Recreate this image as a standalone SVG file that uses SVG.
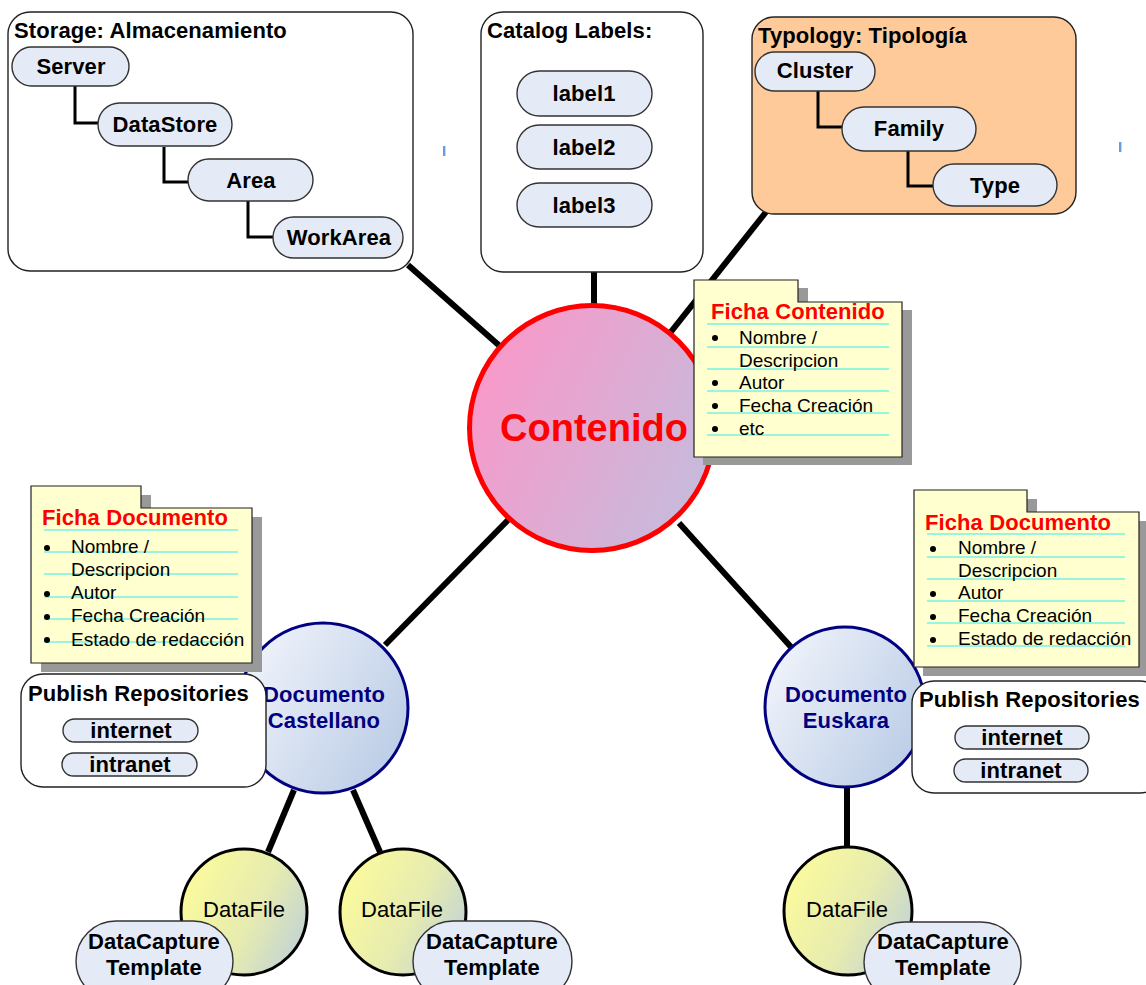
<svg xmlns="http://www.w3.org/2000/svg" width="1146" height="985" viewBox="0 0 1146 985">
<defs>
<linearGradient id="gPink" x1="0" y1="0.3" x2="1" y2="0.8">
<stop offset="0" stop-color="#FA98C9"/><stop offset="1" stop-color="#C3BDDD"/>
</linearGradient>
<linearGradient id="gBlue" x1="0" y1="0.2" x2="1" y2="0.8">
<stop offset="0" stop-color="#F1F4FB"/><stop offset="1" stop-color="#B9CBE5"/>
</linearGradient>
<linearGradient id="gYellow" x1="0" y1="0.3" x2="1" y2="0.8">
<stop offset="0" stop-color="#FBFB9C"/><stop offset="0.55" stop-color="#E6EBB0"/><stop offset="1" stop-color="#BFD2D8"/>
</linearGradient>
<style>
.box{fill:#FFFFFF;stroke:#222;stroke-width:1.4}
.pill{fill:#E5EBF6;stroke:#333;stroke-width:1.4}
.spoke{stroke:#000;stroke-width:6;fill:none}
.tree{stroke:#000;stroke-width:3;fill:none}
.t{font-family:"Liberation Sans",Arial,sans-serif;font-weight:bold;font-size:22px;letter-spacing:0.1px;fill:#000}
.c{text-anchor:middle}
.note{fill:#FFFFCF;stroke:#222;stroke-width:1.2}
.shadow{fill:#999999}
.nt{font-family:"Liberation Sans",Arial,sans-serif;font-weight:bold;font-size:22px;letter-spacing:0.1px;fill:#FF0000}
.it{font-family:"Liberation Sans",Arial,sans-serif;font-size:19px;fill:#000}
.rule{stroke:#33EEEE;stroke-width:1.2}
.doc{fill:url(#gBlue);stroke:#000080;stroke-width:3}
.dt{font-family:"Liberation Sans",Arial,sans-serif;font-weight:bold;font-size:22px;letter-spacing:0.1px;fill:#000080;text-anchor:middle}
.df{fill:url(#gYellow);stroke:#000;stroke-width:3}
.dft{font-family:"Liberation Sans",Arial,sans-serif;font-size:22px;fill:#000;text-anchor:middle}
.tick{fill:#6A9BE0}
</style>
</defs>
<rect width="1146" height="985" fill="#FFFFFF"/>

<g id="connectors">
<line class="spoke" x1="408" y1="265" x2="502" y2="348"/>
<line class="spoke" x1="594" y1="270" x2="594" y2="306"/>
<line class="spoke" x1="766" y1="212" x2="670" y2="333"/>
<line class="spoke" x1="508" y1="520" x2="385" y2="645"/>
<line class="spoke" x1="679" y1="523" x2="791" y2="647"/>
<line class="spoke" x1="294" y1="790" x2="268" y2="852"/>
<line class="spoke" x1="353" y1="790" x2="380" y2="852"/>
<line class="spoke" x1="847" y1="786" x2="847" y2="848"/>
</g>

<g id="storage">
<rect class="box" x="8" y="12" width="405" height="259" rx="22"/>
<text class="t" x="14" y="38">Storage: Almacenamiento</text>
</g>
<g id="catalog">
<rect class="box" x="481" y="12" width="222" height="260" rx="22"/>
<text class="t" x="487" y="38">Catalog Labels:</text>
</g>
<g id="typology">
<rect x="752" y="17" width="324" height="197" rx="22" fill="#FFCA99" stroke="#222" stroke-width="1.4"/>
<text class="t" x="758" y="43">Typology: Tipología</text>
</g>

<g id="tree-connectors">
<polyline class="tree" points="75,86 75,123 98,123"/>
<polyline class="tree" points="164,147 164,182 188,182"/>
<polyline class="tree" points="248,201 248,237 273,237"/>
<polyline class="tree" points="818,91 818,127 842,127"/>
<polyline class="tree" points="908,151 908,186 933,186"/>
</g>

<g id="server"><rect class="pill" x="12" y="47" width="117" height="39" rx="19.5"/><text class="t c" x="71" y="74">Server</text></g>
<g id="datastore"><rect class="pill" x="98" y="103" width="134" height="43" rx="21.5"/><text class="t c" x="165" y="132">DataStore</text></g>
<g id="area"><rect class="pill" x="188" y="159" width="125" height="42" rx="21"/><text class="t c" x="251" y="188">Area</text></g>
<g id="workarea"><rect class="pill" x="273" y="217" width="130" height="41" rx="20.5"/><text class="t c" x="339" y="245">WorkArea</text></g>

<g id="label1"><rect class="pill" x="517" y="71" width="135" height="45" rx="22.5"/><text class="t c" x="584" y="101">label1</text></g>
<g id="label2"><rect class="pill" x="517" y="125" width="135" height="44" rx="22"/><text class="t c" x="584" y="155">label2</text></g>
<g id="label3"><rect class="pill" x="517" y="183" width="135" height="44" rx="22"/><text class="t c" x="584" y="213">label3</text></g>

<g id="cluster"><rect class="pill" x="755" y="52" width="120" height="39" rx="19.5"/><text class="t c" x="815" y="78">Cluster</text></g>
<g id="family"><rect class="pill" x="842" y="107" width="134" height="44" rx="22"/><text class="t c" x="909" y="136">Family</text></g>
<g id="type"><rect class="pill" x="933" y="164" width="124" height="42" rx="21"/><text class="t c" x="995" y="193">Type</text></g>

<rect class="tick" x="443" y="146" width="2.4" height="10"/>
<rect class="tick" x="1119" y="142" width="2.4" height="10"/>

<g id="contenido">
<circle cx="592" cy="428" r="122.5" fill="url(#gPink)" stroke="#FF0000" stroke-width="5"/>
<text x="594" y="441" text-anchor="middle" font-family="'Liberation Sans',Arial,sans-serif" font-weight="bold" font-size="38" fill="#FF0000">Contenido</text>
</g>

<g id="ficha-contenido">
<path class="shadow" d="M703,288 H808 V310 H912 V465 H703 Z"/>
<path class="note" d="M694,280 H798 V302 H902 V457 H694 Z"/>
<text class="nt" x="711" y="319">Ficha Contenido</text>
<g class="rule">
<line x1="707" y1="324" x2="889" y2="324"/><line x1="707" y1="347" x2="889" y2="347"/><line x1="707" y1="369" x2="889" y2="369"/>
<line x1="707" y1="391" x2="889" y2="391"/><line x1="707" y1="413" x2="889" y2="413"/><line x1="707" y1="435" x2="889" y2="435"/>
</g>
<circle cx="715" cy="338" r="3"/><circle cx="715" cy="383" r="3"/><circle cx="715" cy="406" r="3"/><circle cx="715" cy="429" r="3"/>
<text class="it" x="739" y="344">Nombre /</text>
<text class="it" x="739" y="367">Descripcion</text>
<text class="it" x="739" y="389">Autor</text>
<text class="it" x="739" y="412">Fecha Creación</text>
<text class="it" x="739" y="435">etc</text>
</g>

<g id="documento-castellano">
<circle class="doc" cx="323" cy="708" r="85"/>
<text class="dt" x="324" y="702">Documento</text>
<text class="dt" x="324" y="728">Castellano</text>
</g>

<g id="ficha-documento-1">
<path class="shadow" d="M41,495 H151 V517 H262 V672 H41 Z"/>
<path class="note" d="M31,486 H141 V508 H252 V663 H31 Z"/>
<text class="nt" x="42" y="525">Ficha Documento</text>
<g class="rule">
<line x1="44" y1="530" x2="238" y2="530"/><line x1="44" y1="552" x2="238" y2="552"/><line x1="44" y1="574" x2="238" y2="574"/>
<line x1="44" y1="597" x2="238" y2="597"/><line x1="44" y1="619" x2="238" y2="619"/><line x1="44" y1="642" x2="238" y2="642"/>
</g>
<circle cx="47" cy="548" r="3"/><circle cx="47" cy="594" r="3"/><circle cx="47" cy="617" r="3"/><circle cx="47" cy="640" r="3"/>
<text class="it" x="71" y="553">Nombre /</text>
<text class="it" x="71" y="576">Descripcion</text>
<text class="it" x="71" y="599">Autor</text>
<text class="it" x="71" y="622">Fecha Creación</text>
<text class="it" x="71" y="646">Estado de redacción</text>
</g>

<g id="publish-1">
<rect class="box" x="21" y="674" width="245" height="113" rx="22"/>
<text class="t" x="28" y="701">Publish Repositories</text>
</g>
<g id="internet-1"><rect class="pill" x="63" y="719" width="135" height="23" rx="11.5"/><text class="t c" x="131" y="738">internet</text></g>
<g id="intranet-1"><rect class="pill" x="62" y="753" width="135" height="23" rx="11.5"/><text class="t c" x="130" y="772">intranet</text></g>

<g id="documento-euskara">
<circle class="doc" cx="845" cy="707" r="80"/>
<text class="dt" x="846" y="702">Documento</text>
<text class="dt" x="846" y="728">Euskara</text>
</g>

<g id="ficha-documento-2">
<path class="shadow" d="M923,499 H1037 V521 H1149 V676 H923 Z"/>
<path class="note" d="M914,490 H1027 V512 H1139 V667 H914 Z"/>
<text class="nt" x="925" y="530">Ficha Documento</text>
<g class="rule">
<line x1="927" y1="534" x2="1125" y2="534"/><line x1="927" y1="557" x2="1125" y2="557"/><line x1="927" y1="579" x2="1125" y2="579"/>
<line x1="927" y1="601" x2="1125" y2="601"/><line x1="927" y1="623" x2="1125" y2="623"/><line x1="927" y1="646" x2="1125" y2="646"/>
</g>
<circle cx="933" cy="549" r="3"/><circle cx="933" cy="594" r="3"/><circle cx="933" cy="617" r="3"/><circle cx="933" cy="640" r="3"/>
<text class="it" x="958" y="554">Nombre /</text>
<text class="it" x="958" y="577">Descripcion</text>
<text class="it" x="958" y="599">Autor</text>
<text class="it" x="958" y="622">Fecha Creación</text>
<text class="it" x="958" y="645">Estado de redacción</text>
</g>

<g id="publish-2">
<rect class="box" x="912" y="681" width="250" height="112" rx="22"/>
<text class="t" x="919" y="707">Publish Repositories</text>
</g>
<g id="internet-2"><rect class="pill" x="955" y="726" width="134" height="23" rx="11.5"/><text class="t c" x="1022" y="745">internet</text></g>
<g id="intranet-2"><rect class="pill" x="954" y="759" width="134" height="23" rx="11.5"/><text class="t c" x="1021" y="778">intranet</text></g>

<g id="datafile-1">
<circle class="df" cx="244" cy="912" r="63"/>
<text class="dft" x="244" y="917">DataFile</text>
</g>
<g id="datacapture-1">
<rect class="pill" x="76" y="921" width="157" height="80" rx="40"/>
<text class="t c" x="154" y="949">DataCapture</text>
<text class="t c" x="154" y="975">Template</text>
</g>

<g id="datafile-2">
<circle class="df" cx="403" cy="912" r="63"/>
<text class="dft" x="402" y="917">DataFile</text>
</g>
<g id="datacapture-2">
<rect class="pill" x="413" y="921" width="159" height="80" rx="40"/>
<text class="t c" x="492" y="949">DataCapture</text>
<text class="t c" x="492" y="975">Template</text>
</g>

<g id="datafile-3">
<circle class="df" cx="848" cy="911" r="64"/>
<text class="dft" x="847" y="917">DataFile</text>
</g>
<g id="datacapture-3">
<rect class="pill" x="864" y="922" width="157" height="80" rx="40"/>
<text class="t c" x="943" y="949">DataCapture</text>
<text class="t c" x="943" y="975">Template</text>
</g>
</svg>
